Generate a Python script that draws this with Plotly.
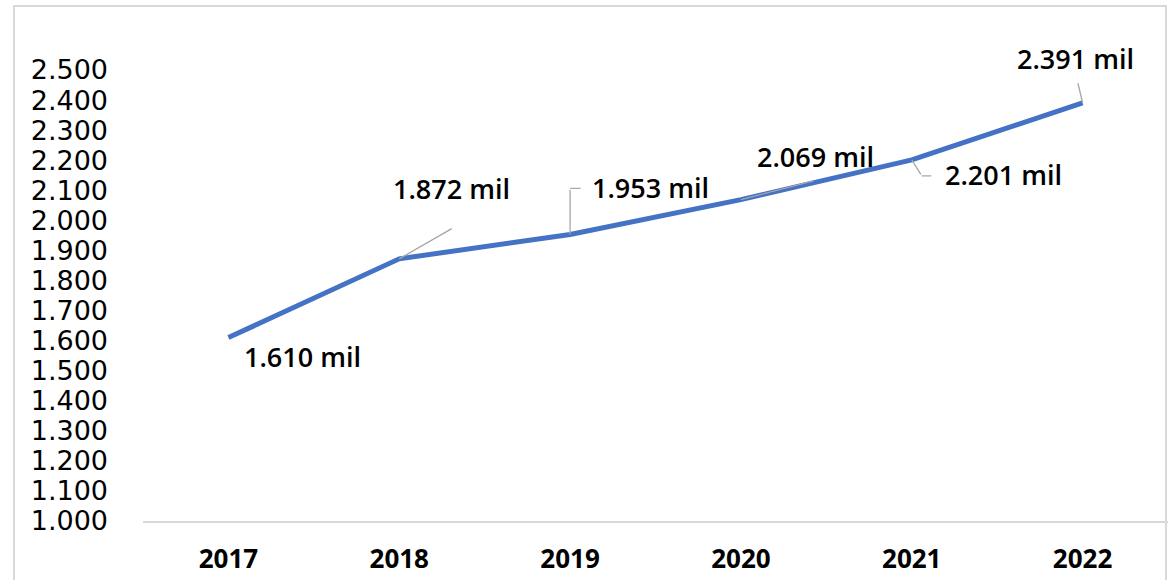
import plotly.graph_objects as go

years = ["2017", "2018", "2019", "2020", "2021", "2022"]
values = [1610, 1872, 1953, 2069, 2201, 2391]
labels = ["1.610 mil", "1.872 mil", "1.953 mil", "2.069 mil", "2.201 mil", "2.391 mil"]
y_ticks = list(range(1000, 2501, 100))
y_tick_text = [f"{v // 1000}.{v % 1000:03d}" for v in y_ticks]

# label text-centre offsets in pixels relative to each point (x right, y down)
label_offsets = [(74, 19), (52, -70), (80, -47), (75, -43), (92, 15), (-7, -44)]
# leader-line segments: (point index, xshift, yshift(up), ax, ay(down))
leaders = [
    (1, 0, 0, 54, -31),
    (2, 0, 0, 0, -46), (2, 0, 46, 12, 0),
    (3, 0, 0, 74, -19),
    (4, 0, 0, 10, 16), (4, 10, -16, 11, 0),
    (5, 0, 0, -5, -21),
]

fig = go.Figure()
fig.add_trace(go.Scatter(
    x=years, y=values, mode="lines",
    line=dict(color="#4472C4", width=5),
    hoverinfo="skip", showlegend=False,
))

annotations = []
for (i, xs, ys, ax, ay) in leaders:
    annotations.append(dict(
        x=i, y=values[i], xref="x", yref="y", text="", showarrow=True,
        xshift=xs, yshift=ys, ax=ax, ay=ay, arrowhead=0, arrowwidth=1.3,
        arrowcolor="#A6A6A6", standoff=0, startstandoff=0,
    ))
for i, (v, lab, (dx, dy)) in enumerate(zip(values, labels, label_offsets)):
    annotations.append(dict(
        x=i, y=v, xref="x", yref="y", text=lab, showarrow=False,
        xshift=dx, yshift=-dy, xanchor="center", yanchor="middle",
        font=dict(family="Open Sans", size=27, color="#000000", weight=600),
    ))

fig.update_layout(
    width=1170, height=580,
    margin=dict(l=143, r=2, t=70, b=59),
    paper_bgcolor="white", plot_bgcolor="white",
    annotations=annotations,
    shapes=[dict(type="rect", xref="paper", yref="paper",
                 x0=(14 - 143) / 1025, x1=(1166 - 143) / 1025,
                 y0=-0.3, y1=(521 - 6) / 451,
                 line=dict(color="#D9D9D9", width=2),
                 layer="below")],
    xaxis=dict(
        type="category", range=[-0.5, 5.5], showgrid=False,
        showline=True, linecolor="#D9D9D9", linewidth=2,
        tickfont=dict(family="Open Sans", size=26, color="#000000", weight=700),
        ticks="", ticklabelstandoff=14, zeroline=False,
    ),
    yaxis=dict(
        range=[1000, 2500], tickvals=y_ticks, ticktext=y_tick_text,
        showgrid=False, showline=False, zeroline=False,
        tickfont=dict(family="DejaVu Sans", size=27, color="#000000"),
        ticks="", ticklabelstandoff=34,
    ),
)

fig.write_html("out.html")
